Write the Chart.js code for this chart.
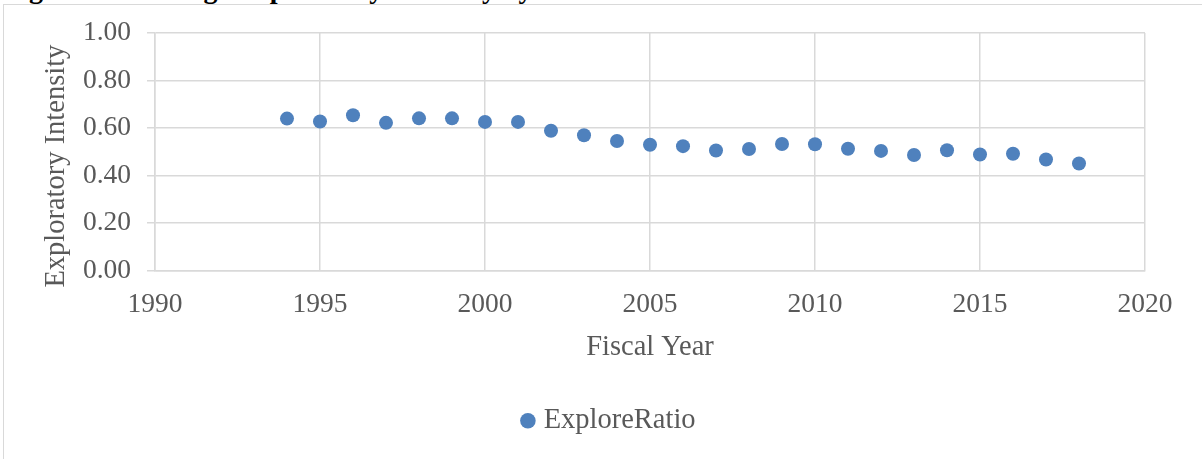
<!DOCTYPE html>
<html>
<head>
<meta charset="utf-8">
<script src="https://cdn.jsdelivr.net/npm/chart.js@4"></script>
<style>
  html, body { margin: 0; padding: 0; background: #fff; overflow: hidden; }
  .page { position: relative; width: 1202px; height: 459px; overflow: hidden; }
  .caption { position: absolute; left: 4px; top: -25px; font: bold 28px/28px "Liberation Serif", "Times New Roman", serif; color: #000; white-space: nowrap; }
  .frame { position: absolute; left: 3px; top: 4px; width: 1300px; height: 600px; border: 1px solid #d9d9d9; }
  #exploreChart { position: absolute; left: 0; top: 0; }
</style>
</head>
<body>
<div class="page">
  <div class="caption">Figure 10: Average Exploratory Intensity by Year</div>
  <div class="frame"></div>
  <canvas id="exploreChart" width="1202" height="459"></canvas>
</div>
<script type="text/javascript">
// fiscal years and the average explore ratio
var years = [1994, 1995, 1996, 1997, 1998, 1999, 2000, 2001, 2002, 2003, 2004, 2005, 2006,
             2007, 2008, 2009, 2010, 2011, 2012, 2013, 2014, 2015, 2016, 2017, 2018];
var exploreRatio = [0.640, 0.628, 0.654, 0.622, 0.641, 0.641, 0.626, 0.626, 0.589, 0.570, 0.546, 0.530, 0.524,
                    0.506, 0.512, 0.533, 0.532, 0.513, 0.504, 0.487, 0.507, 0.489, 0.492, 0.468, 0.451];
var xTicks = [1990, 1995, 2000, 2005, 2010, 2015, 2020];
var yTicks = [0, 0.2, 0.4, 0.6, 0.8, 1.0];

var serif = '"Liberation Serif", "Times New Roman", serif';
var textGray = '#595959';
var gridGray = '#d9d9d9';

var points = years.map(function (y, i) { return { x: y, y: exploreRatio[i] }; });

var chart = new Chart("exploreChart", {
  type: "scatter",
  data: {
    datasets: [
      {
        label: "ExploreRatio",
        data: points,
        backgroundColor: "#4f81bd",
        borderColor: "#4f81bd",
        borderWidth: 0,
        pointRadius: 7,
        pointHoverRadius: 7
      }
    ]
  },
  options: {
    responsive: false,
    animation: false,
    layout: {
      padding: { left: 77, right: 57, top: 33, bottom: 14 }
    },
    plugins: {
      legend: {
        display: true,
        position: 'bottom',
        labels: {
          usePointStyle: true,
          pointStyle: 'circle',
          boxWidth: 3,
          boxHeight: 11,
          padding: 10,
          color: textGray,
          font: { family: serif, size: 28.5 }
        }
      },
      tooltip: { enabled: false }
    },
    scales: {
      x: {
        type: 'linear',
        min: xTicks[0],
        max: xTicks[xTicks.length - 1],
        afterBuildTicks: function (scale) {
          scale.ticks = xTicks.map(function (v) { return { value: v }; });
        },
        afterFit: function (scale) { scale.height = 125.75; },
        grid: { color: gridGray, lineWidth: 1.5, drawTicks: false },
        border: { display: true, color: gridGray, width: 1.5 },
        ticks: {
          padding: 17.5,
          color: textGray,
          font: { family: serif, size: 27.5 },
          callback: function (v) { return String(v); }
        },
        title: {
          display: true,
          text: 'Fiscal Year',
          color: textGray,
          font: { family: serif, size: 28.5 },
          padding: { top: 0, bottom: 31.6 }
        }
      },
      y: {
        min: 0,
        max: 1,
        afterBuildTicks: function (scale) {
          scale.ticks = yTicks.map(function (v) { return { value: v }; });
        },
        afterFit: function (scale) { scale.width = 78; },
        grid: { color: gridGray, lineWidth: 1.5, drawTicks: true, tickLength: 8 },
        border: { display: true, color: gridGray, width: 1.5 },
        ticks: {
          padding: 16,
          color: textGray,
          font: { family: serif, size: 27.5 },
          callback: function (v) { return v.toFixed(2); }
        },
        title: {
          display: true,
          text: 'Exploratory Intensity    ',
          color: textGray,
          font: { family: serif, size: 28.5 },
          padding: { top: -37.1, bottom: 0 }
        }
      }
    }
  }
});
</script>
</body>
</html>
